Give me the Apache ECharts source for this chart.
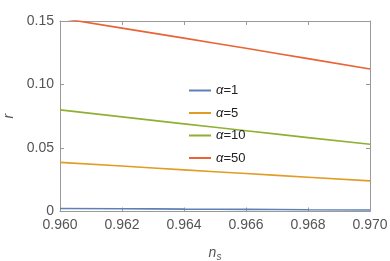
<!DOCTYPE html>
<html><head><meta charset="utf-8">
<script src="https://cdn.jsdelivr.net/npm/echarts@6/dist/echarts.min.js"></script>
<style>html,body{margin:0;padding:0;background:#fff}#c{width:390px;height:261px}</style>
</head><body><div id="c"></div>
<script>
const nsValues = [0.960, 0.962, 0.964, 0.966, 0.968, 0.970];
const seriesNames = ['α=1', 'α=5', 'α=10', 'α=50'];
const alpha1 = [0.0024, 0.0022, 0.0019, 0.0017, 0.0014, 0.0012];
const alpha5 = [0.0387, 0.0358, 0.0328, 0.0299, 0.0270, 0.0241];
const alpha10 = [0.0800, 0.0745, 0.0690, 0.0636, 0.0582, 0.0529];
const alpha50 = [0.1523, 0.1444, 0.1365, 0.1285, 0.1204, 0.1122];
const xTicks = [0.960, 0.962, 0.964, 0.966, 0.968, 0.970];
const yTicks = [0, 0.05, 0.10, 0.15];

const colors = ['#5E81B5', '#E19C24', '#8FB032', '#EB6235'];
const allData = [alpha1, alpha5, alpha10, alpha50];
const font = 'Liberation Sans, Arial, sans-serif';
const labelColor = '#555';
const frameColor = '#9a9a9a';

const chart = echarts.init(document.getElementById('c'), null, {renderer: 'canvas'});
const axisCommon = {
  axisLine: {show: true, onZero: false, lineStyle: {color: frameColor, width: 1}},
  axisTick: {show: true, inside: true, length: 4, lineStyle: {color: frameColor}},
  splitLine: {show: false}
};
chart.setOption({
  animation: false,
  backgroundColor: '#fff',
  grid: {left: 60, right: 20, top: 21, bottom: 49.5, containLabel: false, outerBoundsMode: 'none'},
  legend: {
    orient: 'vertical', left: 184, top: 79, itemGap: 9.5,
    itemWidth: 22, itemHeight: 2, icon: 'rect',
    data: seriesNames,
    formatter: n => '{i|α}{t|' + n.slice(1) + '}',
    textStyle: {rich: {
      i: {fontFamily: font, fontStyle: 'italic', fontSize: 13, color: '#222', height: 14},
      t: {fontFamily: font, fontSize: 13, color: '#222', height: 14}
    }}
  },
  xAxis: [
    Object.assign({
      type: 'value', min: 0.960, max: 0.970, interval: 0.002, position: 'bottom',
      axisLabel: {color: labelColor, fontFamily: font, fontSize: 14, margin: 7,
        formatter: v => v.toFixed(3)},
      name: '{n|n}{s|s}', nameLocation: 'middle', nameGap: 33,
      nameTextStyle: {rich: {
        n: {fontFamily: font, fontStyle: 'italic', fontSize: 14, color: labelColor},
        s: {fontFamily: font, fontStyle: 'italic', fontSize: 10, color: labelColor, padding: [8, 0, 0, 0]}
      }}
    }, axisCommon),
    Object.assign({
      type: 'value', min: 0.960, max: 0.970, interval: 0.002, position: 'top',
      axisLabel: {show: false}
    }, axisCommon)
  ],
  yAxis: [
    Object.assign({
      type: 'value', min: 0, max: 0.15, interval: 0.05, position: 'left',
      axisLabel: {color: labelColor, fontFamily: font, fontSize: 14, margin: 6,
        formatter: v => v === 0 ? '0' : v.toFixed(2)},
      name: 'r', nameLocation: 'middle', nameGap: 35, nameRotate: 90,
      nameTextStyle: {fontFamily: font, fontStyle: 'italic', fontSize: 14, color: labelColor}
    }, axisCommon),
    Object.assign({
      type: 'value', min: 0, max: 0.15, interval: 0.05, position: 'right',
      axisLabel: {show: false}
    }, axisCommon)
  ],
  series: seriesNames.map((n, i) => ({
    name: n, type: 'line', smooth: true, showSymbol: false, clip: true,
    color: colors[i],
    lineStyle: {width: 1.6, color: colors[i]},
    data: nsValues.map((x, j) => [x, allData[i][j]])
  }))
});
</script></body></html>
